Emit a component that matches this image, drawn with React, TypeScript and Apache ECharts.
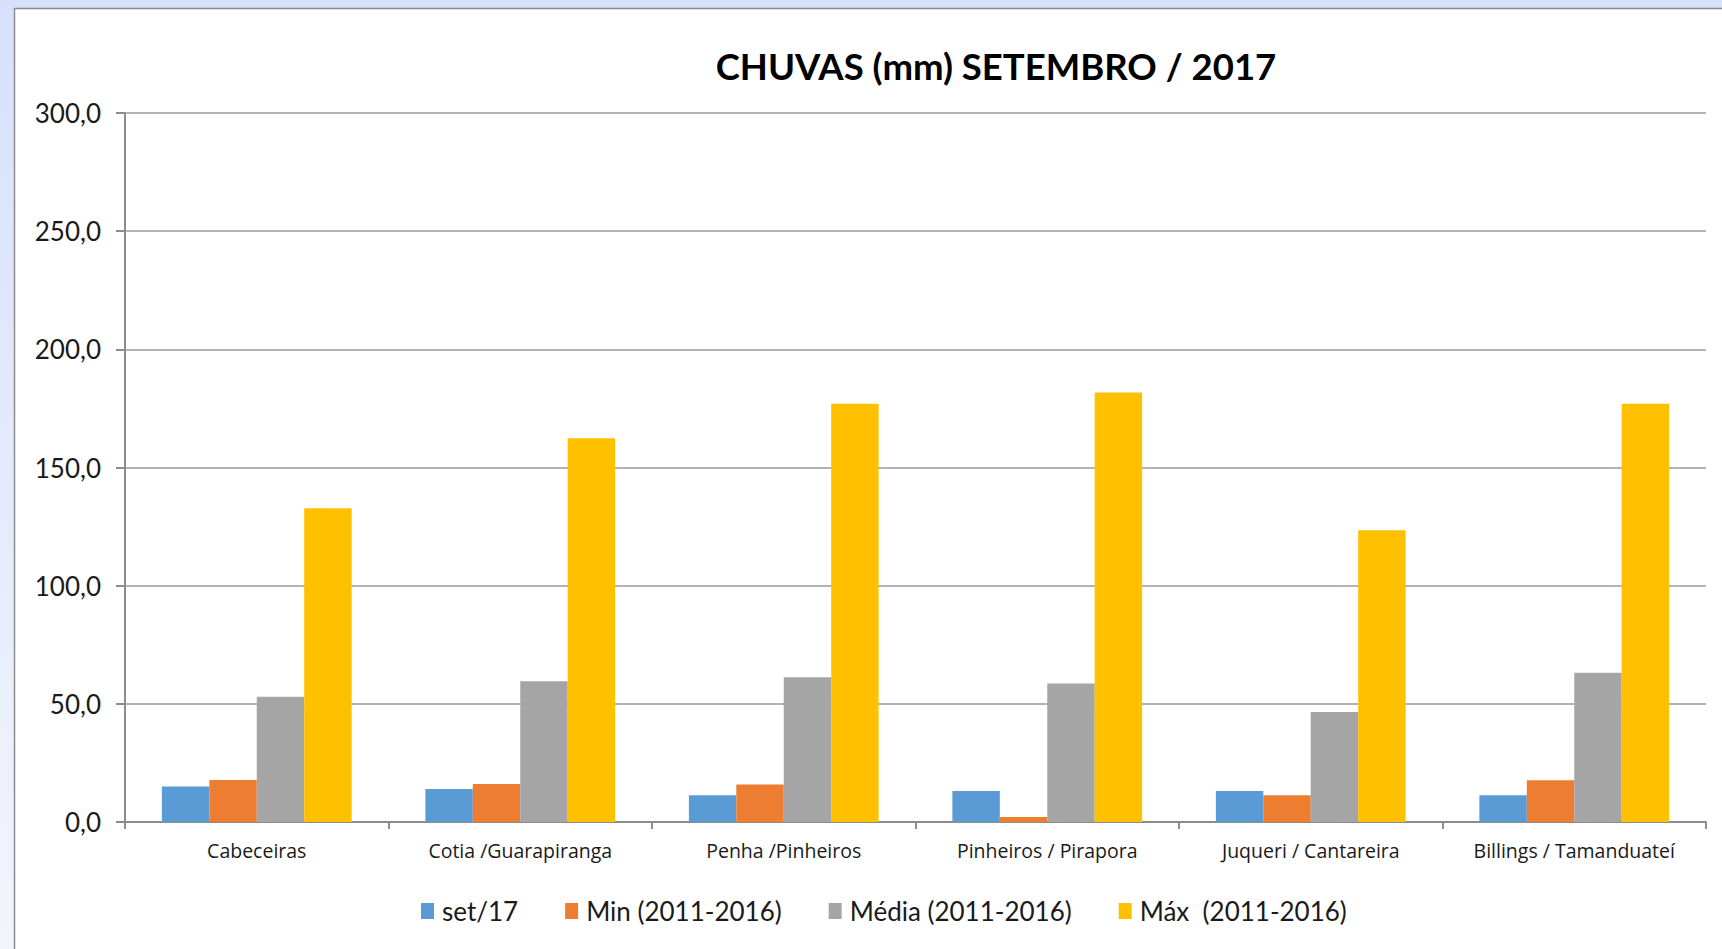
import React, { useEffect, useRef } from "react";
import * as echarts from "echarts";

const categories = [
  "Cabeceiras",
  "Cotia /Guarapiranga",
  "Penha /Pinheiros",
  "Pinheiros / Pirapora",
  "Juqueri / Cantareira",
  "Billings / Tamanduateí",
];
const seriesNames = ["set/17", "Min (2011-2016)", "Média (2011-2016)", "Máx  (2011-2016)"];
const set17 = [15.0, 14.0, 11.3, 13.1, 13.1, 11.3];
const minVals = [17.8, 16.1, 15.9, 2.1, 11.3, 17.7];
const mediaVals = [53.0, 59.6, 61.3, 58.6, 46.5, 63.1];
const maxVals = [132.8, 162.4, 177.0, 181.7, 123.4, 177.0];
const colors = ["#5B9BD5", "#ED7D31", "#A5A5A5", "#FFC000"];
const titleText = "CHUVAS (mm) SETEMBRO / 2017";

export default function App() {
  const ref = useRef<HTMLDivElement>(null);
  useEffect(() => {
    if (!ref.current) return;
    const chart = echarts.init(ref.current, null, { renderer: "svg" });
    const font = "Lato, 'Open Sans', sans-serif";
    const data = [set17, minVals, mediaVals, maxVals];
    chart.setOption({
      animation: false,
      backgroundColor: "#ffffff",
      title: {
        text: titleText,
        left: 991,
        top: 42,
        textAlign: "center",
        textStyle: { fontFamily: font, fontWeight: "bold", fontSize: 36.5, color: "#000000" },
      },
      graphic: [
        {
          type: "rect",
          shape: { x: 0, y: 0, width: 1722, height: 8 },
          style: { fill: "#d7e0fb" },
          z: 100,
        },
        {
          type: "rect",
          shape: { x: 0, y: 0, width: 14, height: 949 },
          style: {
            fill: new echarts.graphic.LinearGradient(0, 0, 0, 1, [
              { offset: 0, color: "#d7e0fb" },
              { offset: 1, color: "#f2f5fd" },
            ]),
          },
          z: 100,
        },
        {
          type: "line",
          shape: { x1: 14, y1: 8.5, x2: 1722, y2: 8.5 },
          style: { stroke: "#8c8c8c", lineWidth: 1.5 },
          z: 101,
        },
        {
          type: "line",
          shape: { x1: 14.5, y1: 8, x2: 14.5, y2: 949 },
          style: { stroke: "#8c8c8c", lineWidth: 1.5 },
          z: 101,
        },
      ],
      legend: {
        bottom: 20,
        left: 416,
        itemWidth: 13,
        itemHeight: 16,
        itemGap: 47,
        icon: "rect",
        textStyle: { fontFamily: font, fontSize: 26, color: "#1a1a1a", padding: [0, 0, 0, 3] },
        data: seriesNames,
      },
      grid: { left: 125, right: 16, top: 113, bottom: 127, containLabel: false },
      xAxis: {
        type: "category",
        data: categories,
        axisLine: { show: true, lineStyle: { color: "#8c8c8c", width: 2 } },
        axisTick: { show: true, interval: 0, length: 7, lineStyle: { color: "#8c8c8c", width: 2 } },
        axisLabel: {
          interval: 0,
          hideOverlap: false,
          fontFamily: "'Open Sans', Lato, sans-serif",
          fontSize: 19.5,
          color: "#1a1a1a",
          margin: 18,
        },
      },
      yAxis: {
        type: "value",
        min: 0,
        max: 300,
        interval: 50,
        axisLine: { show: true, lineStyle: { color: "#8c8c8c", width: 2 } },
        axisTick: { show: true, length: 9, lineStyle: { color: "#8c8c8c", width: 2 } },
        splitLine: { lineStyle: { color: "#9a9a9a", width: 1.5 } },
        axisLabel: {
          fontFamily: font,
          fontSize: 26,
          color: "#1a1a1a",
          margin: 24,
          formatter: (v: number) => v.toFixed(1).replace(".", ","),
        },
      },
      series: seriesNames.map((name, i) => ({
        name,
        type: "bar",
        data: data[i],
        barGap: "0%",
        barCategoryGap: "28%",
        itemStyle: { color: colors[i] },
      })),
    });
    return () => chart.dispose();
  }, []);
  return (
    <div
      ref={ref}
      style={{ position: "fixed", left: 0, top: 0, width: 1722, height: 949 }}
    />
  );
}
